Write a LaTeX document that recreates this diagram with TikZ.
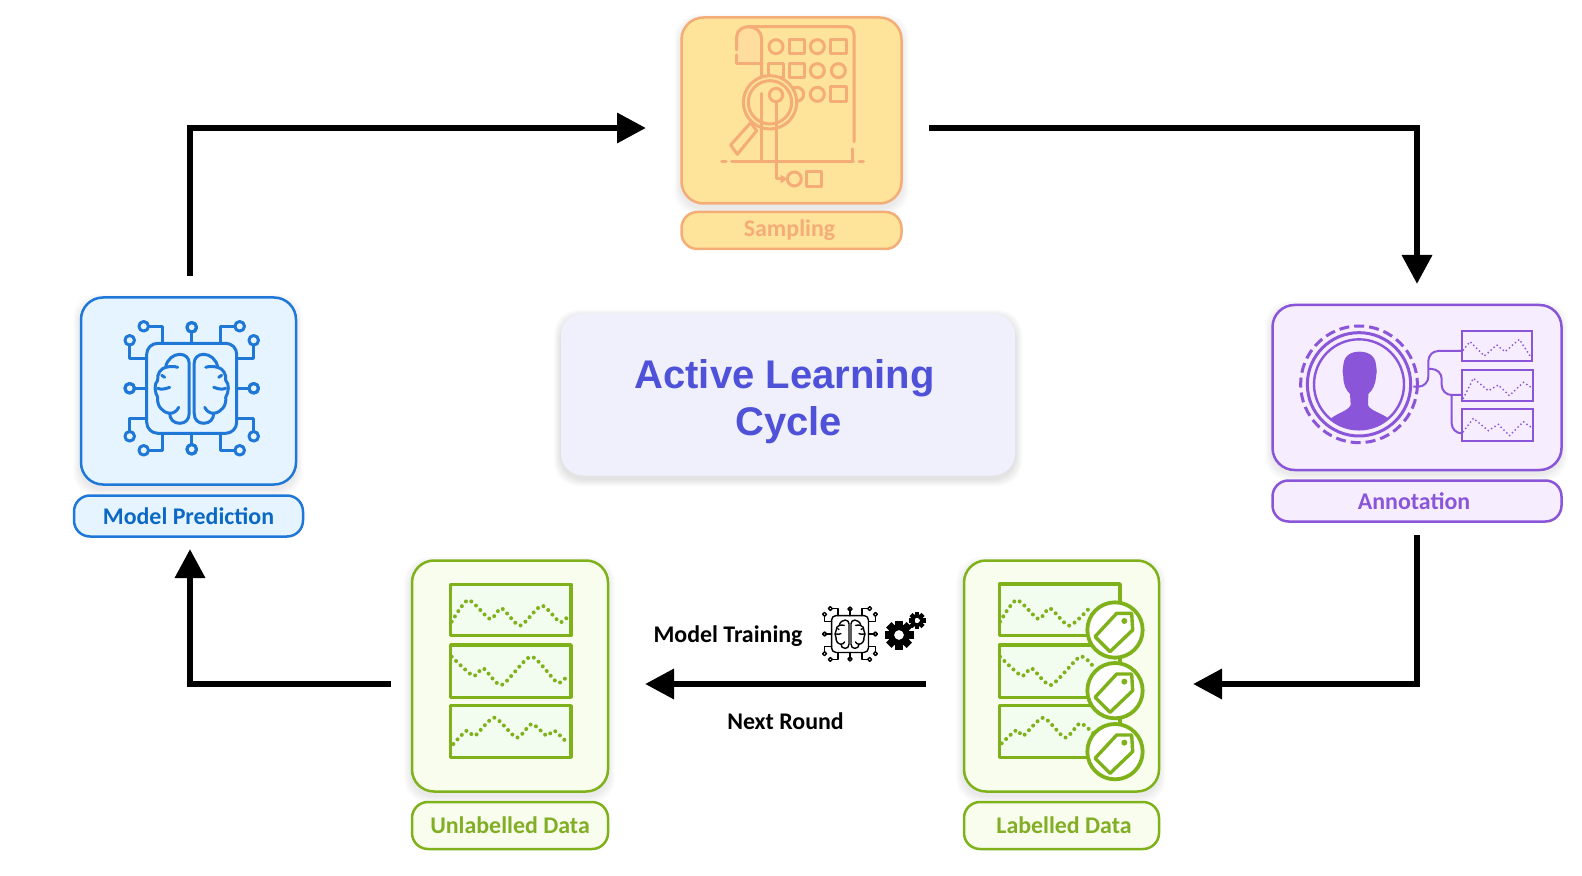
\documentclass[tikz,border=0pt]{standalone}
\usepackage{fontspec}
\setmainfont{Carlito}
\newfontfamily\titlefont{Liberation Sans}
\usetikzlibrary{arrows.meta}
\definecolor{samF}{HTML}{FEE39A}\definecolor{samD}{HTML}{F5AD78}\definecolor{samL}{HTML}{FEDD9F}
\definecolor{modF}{HTML}{E6F4FF}\definecolor{modD}{HTML}{1F78D8}\definecolor{modT}{HTML}{0B68C4}
\definecolor{purF}{HTML}{F6EDFF}\definecolor{purD}{HTML}{8A55D8}
\definecolor{grnF}{HTML}{F8FDEE}\definecolor{grnD}{HTML}{7FB21A}\definecolor{grnT}{HTML}{82AE25}\definecolor{grnP}{HTML}{F2FDEF}
\definecolor{cenF}{HTML}{F0F0FC}\definecolor{cenT}{HTML}{4F52D8}
\tikzset{
  card/.style={rounded corners=11pt,line width=1.25pt,outer sep=0pt,inner sep=0pt},
  tagbox/.style={rounded corners=8pt,line width=1.25pt,outer sep=0pt,inner sep=0pt,font=\fontsize{11.95}{14}\selectfont\bfseries},
  flow/.style={line width=3.2pt,-{Triangle[length=14.5pt,width=14.5pt]},line join=miter},
  caption/.style={font=\fontsize{11.95}{14}\selectfont\bfseries,inner sep=0pt},
  titletext/.style={font=\titlefont\fontsize{20}{24}\selectfont\bfseries,text=cenT,inner sep=0pt},
  dots/.style={line width=2pt,line cap=round,dash pattern=on 0pt off 3.1pt},
  plotbox/.style={line width=1.7pt,line join=round},
  pl/.style={line width=1.5pt,draw=samD,line join=round,line cap=round}
}
% soft shadow: x1,y1,x2,y2 of the box, opacity of one layer
\newcommand{\softshadow}[5]{%
\foreach \g in {1,...,7}
  \fill[black,opacity=#5,rounded corners=12pt] (#1-\g,#2-\g+4) rectangle (#3+\g,#4+\g+4);}
\newcommand{\brainchip}[5]{%
\begin{scope}[shift={(#1,#2)},xscale=#3,yscale=#3,line width=#4,draw=#5,line cap=round,line join=round]
\pgfmathsetmacro{\chipr}{5.5*#3}
\draw[rounded corners=\chipr pt] (-45,-45) rectangle (45,45);
\foreach \sx/\sy in {1/1,-1/1,1/-1,-1/-1}{
\begin{scope}[xscale=\sx,yscale=\sy]
\draw (0,-45) -- (0,-56);
\draw (0,-61) circle[radius=4.8];
\draw (-29,-45) -- (-29,-62) -- (-43,-62);
\draw (-48,-62) circle[radius=4.8];
\draw (-45,-30) -- (-62,-30) -- (-62,-43);
\draw (-62,-48) circle[radius=4.8];
\draw (-45,0) -- (-57,0);
\draw (-62,0) circle[radius=4.8];
\end{scope}}
\foreach \sx in {1,-1}{
\begin{scope}[xscale=\sx]
\draw (-2.5,-25) -- (-2.5,25) .. controls (-2.5,32) and (-7,35) .. (-12,35)
  .. controls (-18,35) and (-22,31) .. (-22,25) .. controls (-30,24) and (-35,17) .. (-34,9)
  .. controls (-37,4) and (-38,-4) .. (-34,-8) .. controls (-35,-14) and (-31,-20) .. (-26,-21)
  .. controls (-25,-29) and (-18,-34) .. (-12,-34) .. controls (-6,-34) and (-2.5,-30) .. (-2.5,-25) -- cycle;
\draw (-22,25) .. controls (-18,25) and (-15,23) .. (-13,19);
\draw (-34,0) .. controls (-30,2) and (-25,0) .. (-22,-1);
\draw (-26,-21) .. controls (-22,-22) and (-17,-22) .. (-14,-21);
\draw (-30,-13) -- (-27,-11);
\end{scope}}
\end{scope}}
\begin{document}
\begin{tikzpicture}[x=0.5pt,y=-0.5pt]
\useasboundingbox (0,0) rectangle (1582,876);
\fill[white] (0,0) rectangle (1582,876);

% shadows
\softshadow{681}{17}{902}{204}{.01}
\softshadow{80}{297}{296}{485}{.01}
\softshadow{1272}{304}{1561}{470}{.01}
\softshadow{963}{560}{1159}{792}{.01}
\softshadow{411}{560}{608}{792}{.01}
\softshadow{561}{313}{1015}{475}{.016}

% cards
\node[card,fill=samF,draw=samD,minimum width=110pt,minimum height=93pt] (sampling) at (791.5,110.5) {};
\node[tagbox,fill=samF,draw=samD,text=samD,minimum width=110pt,minimum height=18.5pt] (samplinglabel) at (791.5,230.5) {\raisebox{-.5pt}{Sampling}\hspace*{2pt}};
\node[card,fill=modF,draw=modD,minimum width=107.5pt,minimum height=93.5pt] (model) at (188.5,391) {};
\node[tagbox,fill=modF,draw=modD,text=modT,minimum width=114.5pt,minimum height=20.5pt] (modellabel) at (188.5,516) {Model Prediction};
\node[card,fill=purF,draw=purD,minimum width=144.5pt,minimum height=82.5pt] (annotation) at (1417,387.5) {};
\node[tagbox,fill=purF,draw=purD,text=purD,minimum width=144.5pt,minimum height=20.5pt] (annotationlabel) at (1417,501) {Annotation\hspace*{3pt}};
\node[card,fill=grnF,draw=grnD,minimum width=97.5pt,minimum height=115.5pt] (labelled) at (1061.5,676) {};
\node[tagbox,fill=grnF,draw=grnD,text=grnT,minimum width=97.5pt,minimum height=23.5pt] (labelledlabel) at (1061.5,825.5) {\hspace*{2.5pt}Labelled Data};
\node[card,fill=grnF,draw=grnD,minimum width=98pt,minimum height=115.5pt] (unlabelled) at (510,676) {};
\node[tagbox,fill=grnF,draw=grnD,text=grnT,minimum width=98pt,minimum height=23.5pt] (unlabelledlabel) at (510,825.5) {\raisebox{-1pt}{Unlabelled Data}};
\node[rounded corners=11pt,fill=cenF,outer sep=0pt,minimum width=227pt,minimum height=81pt] (centre) at (788,394.5) {};
\node[titletext] (titleone) at (784.5,378) {Active Learning};
\node[titletext] (titletwo) at (788.5,425) {Cycle};

% arrows
\coordinate (a1s) at (190,276); \coordinate (a1m) at (190,128); \coordinate (a1e) at (646,128);
\coordinate (a2s) at (929,128); \coordinate (a2m) at (1417,128); \coordinate (a2e) at (1417,284);
\coordinate (a3s) at (1417,535); \coordinate (a3m) at (1417,684); \coordinate (a3e) at (1193,684);
\coordinate (a4s) at (926,684); \coordinate (a4e) at (645,684);
\coordinate (a5s) at (391,684); \coordinate (a5m) at (190,684); \coordinate (a5e) at (190,549);
\draw[flow] (a1s) -- (a1m) -- (a1e);
\draw[flow] (a2s) -- (a2m) -- (a2e);
\draw[flow] (a3s) -- (a3m) -- (a3e);
\draw[flow] (a4s) -- (a4e);
\draw[flow] (a5s) -- (a5m) -- (a5e);
\node[caption] (training) at (728,636) {Model Training};
\node[caption] (nextround) at (785.5,721) {Next Round};

% model icon
\brainchip{191.7}{388.3}{1}{1.5pt}{modD}
% small training icon
\brainchip{850}{634}{0.41}{0.7pt}{black}
\foreach \a in {0,45,...,315}
  \fill[black,rotate around={\a:(899,635)}] (895.2,620.5) rectangle (902.8,630);
\fill[black,even odd rule] (899,635) circle[radius=11] (899,635) circle[radius=5];
\foreach \a in {0,45,...,315}
  \fill[black,rotate around={\a:(917,620.5)}] (914.8,612) rectangle (919.2,618);
\fill[black,even odd rule] (917,620.5) circle[radius=6.4] (917,620.5) circle[radius=3.6];

% sampling icon
\begin{scope}[shift={(660,0)},xscale=1/3,yscale=1/3]
\fill[samL] (232,150) -- (232,110) .. controls (232,90) and (250,82) .. (265,82) .. controls (285,82) and (303,95) .. (303,115) -- (303,187) -- (232,187) -- cycle;
\draw[pl] (265,80) -- (560,80) .. controls (575,80) and (582,90) .. (582,105) -- (582,425);
\draw[pl] (578,447) -- (578,485);
\draw[pl] (185,485) -- (198,485) (215,485) -- (580,485) (597,485) -- (610,485);
\draw[pl] (230,150) -- (230,110) .. controls (230,90) and (250,80) .. (265,80) .. controls (285,80) and (305,95) .. (305,115) -- (305,230);
\draw[pl] (230,165) -- (230,190) -- (305,190);
\foreach \x/\y in {348/140,472/140,472/212,535/212,410/283,472/283}
  \draw[pl] (\x,\y) circle[radius=21];
\foreach \x/\y in {410/140,535/140,348/212,410/212,535/283}
  \draw[pl] (\x-23,\y-22) rectangle (\x+23,\y+22);
\fill[samF] (330,307) circle[radius=80];
\draw[pl] (330,307) circle[radius=80];
\draw[pl] (330,307) circle[radius=65];
\draw[pl] (348,285) circle[radius=20];
\draw[pl] (303,280) -- (303,483);
\draw[pl] (348,305) -- (348,537) -- (372,537);
\fill[samD] (382,537) -- (362,524) -- (362,550) -- cycle;
\draw[pl] (403,537) circle[radius=21];
\draw[pl] (440,515) rectangle (484,559);
\draw[pl] (272,368) -- (212,435) -- (232,463) -- (290,392) -- cycle;
\end{scope}

% annotation icon
\begin{scope}[shift={(1250,290)},xscale=1/3,yscale=1/3,draw=purD]
\draw[draw=purD,line width=1.5pt,dash pattern=on 5pt off 2.5pt] (327,283) circle[radius=175];
\draw[draw=purD,line width=1.5pt] (327,283) circle[radius=155];
\draw[draw=purD,line width=1.2pt] (327,283) circle[radius=135];
\fill[purD] (243,385) .. controls (265,368) and (295,362) .. (302,345) -- (300,312) .. controls (288,300) and (280,285) .. (280,260)
 .. controls (276,250) and (278,240) .. (280,225) .. controls (282,195) and (305,185) .. (328,185) .. controls (352,185) and (376,195) .. (378,225)
 .. controls (380,240) and (382,250) .. (378,260) .. controls (376,285) and (368,300) .. (355,312) -- (354,345)
 .. controls (360,362) and (392,368) .. (415,385) .. controls (395,408) and (360,418) .. (327,418) .. controls (295,418) and (262,408) .. (243,385) -- cycle;
\foreach \a/\b/\c/\d in {635/122/845/213,637/240/848/332,637/358/848/452}
  \draw[draw=purD,line width=1pt,fill=purF] (\a,\b) rectangle (\c,\d);
\draw[purD,line width=1pt,rounded corners=5pt] (490,290) -- (535,290) -- (535,183) -- (635,183);
\draw[purD,line width=1pt,rounded corners=5pt] (535,237) -- (575,237) -- (575,315) -- (637,315);
\draw[purD,line width=1pt,rounded corners=5pt] (605,315) -- (605,430) -- (637,430);
\tikzset{pd/.style={purD,line width=1pt,line cap=round,dash pattern=on 0pt off 2pt}}
\draw[pd] (640,180) -- (660,155) -- (703,198) -- (740,165) -- (765,185) -- (808,148) -- (845,205);
\draw[pd] (640,325) -- (670,265) -- (715,302) -- (745,285) -- (778,317) -- (820,277) -- (848,295);
\draw[pd] (640,425) -- (670,385) -- (715,422) -- (745,403) -- (778,437) -- (820,395) -- (848,415);
\end{scope}

% unlabelled icon
\begin{scope}[shift={(395,545)},xscale=1/3,yscale=1/3,draw=grnD]
\foreach \a/\b/\c/\d in {167/118/528/272,167/300/528/457,167/482/528/637}
  \draw[plotbox,draw=grnD,fill=grnP] (\a,\b) rectangle (\c,\d);
\draw[dots,grnD] plot[smooth,tension=.4] coordinates {(170,230)(220,165)(285,222)(320,190)(375,242)(440,182)(495,232)(520,212)};
\draw[dots,grnD] plot[smooth,tension=.4] coordinates {(170,335)(235,393)(265,370)(320,420)(408,335)(487,413)(520,388)};
\draw[dots,grnD] plot[smooth,tension=.4] coordinates {(175,597)(215,557)(240,572)(298,518)(365,578)(410,537)(455,572)(478,557)(520,597)};
\end{scope}

% labelled icon
\begin{scope}[shift={(940,545)},xscale=1/3,yscale=1/3,draw=grnD]
\foreach \a/\b/\c/\d in {178/117/540/272,178/300/540/457,178/482/540/637}
  \draw[plotbox,draw=grnD,fill=grnP] (\a,\b) rectangle (\c,\d);
\draw[dots,grnD] plot[smooth,tension=.4] coordinates {(180,230)(230,165)(295,222)(330,190)(388,242)(455,182)};
\draw[dots,grnD] plot[smooth,tension=.4] coordinates {(180,335)(245,393)(275,370)(333,420)(420,335)(460,365)};
\draw[dots,grnD] plot[smooth,tension=.4] coordinates {(185,595)(230,555)(250,572)(310,518)(375,578)(420,535)(460,565)};
\foreach \y in {255,437,620}{
  \draw[draw=grnD,fill=white,line width=1.9pt] (525,\y) circle[radius=83];
  \draw[draw=grnD,fill=white,line width=1.7pt,line join=round] (530,\y-50) -- (575,\y-50) -- (578,\y) -- (510,\y+65) -- (465,\y+20) -- cycle;
  \fill[grnD] (553,\y-27) circle[radius=9];
}
\end{scope}
\end{tikzpicture}
\end{document}
